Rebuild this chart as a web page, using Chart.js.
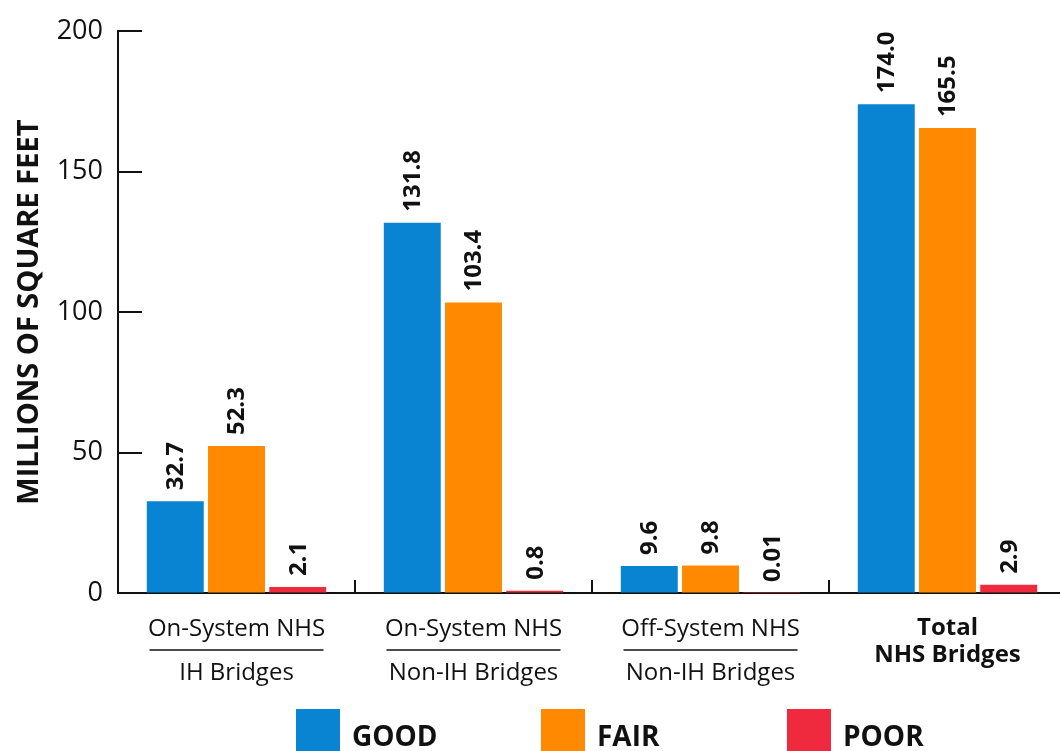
<!DOCTYPE html>
<html>
<head>
<meta charset="utf-8">
<style>
  html, body { margin: 0; padding: 0; background: #fff; overflow: hidden; }
  canvas { display: block; }
</style>
<script src="https://cdn.jsdelivr.net/npm/chart.js@4"></script>
</head>
<body>
<canvas id="bridgeChart" width="1068" height="751"></canvas>
<script>
// chart data
const topLines = ['On-System NHS', 'On-System NHS', 'Off-System NHS', 'Total'];
const bottomLines = ['IH Bridges', 'Non-IH Bridges', 'Non-IH Bridges', 'NHS Bridges'];
const good = [32.7, 131.8, 9.6, 174.0];
const fair = [52.3, 103.4, 9.8, 165.5];
const poor = [2.1, 0.8, 0.01, 2.9];
const yTicks = [0, 50, 100, 150, 200];
const seriesNames = ['GOOD', 'FAIR', 'POOR'];

const FONT = '"Open Sans", "Noto Sans", sans-serif';
const INK = '#111';

function valueText(v) {
  return v < 0.1 ? v.toFixed(2) : v.toFixed(1);
}

// draws inward ticks, group separators, value labels, category labels and legend
const decorPlugin = {
  id: 'decor',
  afterDraw(chart) {
    const ctx = chart.ctx;
    const area = chart.chartArea;
    const x = chart.scales.x;
    const y = chart.scales.y;
    ctx.save();
    ctx.strokeStyle = INK;
    ctx.lineWidth = 2;

    // y ticks pointing into the plot
    yTicks.forEach(v => {
      const py = Math.round(y.getPixelForValue(v));
      ctx.beginPath();
      ctx.moveTo(area.left, py);
      ctx.lineTo(area.left + 24, py);
      ctx.stroke();
    });

    // separators between groups
    for (let i = 1; i < topLines.length; i++) {
      const px = Math.round((x.getPixelForValue(i - 1) + x.getPixelForValue(i)) / 2);
      ctx.beginPath();
      ctx.moveTo(px, area.bottom);
      ctx.lineTo(px, area.bottom - 13);
      ctx.stroke();
    }

    // value labels over bars
    ctx.fillStyle = INK;
    ctx.font = 'bold 24px ' + FONT;
    ctx.textAlign = 'left';
    ctx.textBaseline = 'middle';
    chart.data.datasets.forEach((ds, di) => {
      chart.getDatasetMeta(di).data.forEach((bar, i) => {
        ctx.save();
        ctx.translate(bar.x, bar.y - 11);
        ctx.rotate(-Math.PI / 2);
        ctx.fillText(valueText(ds.data[i]), 0, 1);
        ctx.restore();
      });
    });

    // category labels
    ctx.textAlign = 'center';
    topLines.forEach((t, i) => {
      const cx = x.getPixelForValue(i);
      if (i === topLines.length - 1) {
        ctx.font = 'bold 24px ' + FONT;
        ctx.fillText(t, cx, 628);
        ctx.fillText(bottomLines[i], cx, 655);
      } else {
        ctx.font = '24px ' + FONT;
        ctx.fillText(t, cx, 629);
        ctx.fillText(bottomLines[i], cx, 673);
        ctx.lineWidth = 1.5;
        ctx.beginPath();
        ctx.moveTo(cx - 87, 650);
        ctx.lineTo(cx + 87, 650);
        ctx.stroke();
      }
    });

    // legend
    const legendX = [296, 541, 787];
    ctx.font = 'bold 28px ' + FONT;
    ctx.textAlign = 'left';
    chart.data.datasets.forEach((ds, di) => {
      ctx.fillStyle = ds.backgroundColor;
      ctx.fillRect(legendX[di], 709, 44, 44);
      ctx.fillStyle = INK;
      ctx.fillText(seriesNames[di], legendX[di] + 56, 738);
    });
    ctx.restore();
  }
};

const ctx = document.getElementById('bridgeChart').getContext('2d');
const bridgeChart = new Chart(ctx, {
  type: 'bar',
  data: {
    labels: topLines,
    datasets: [
      { label: seriesNames[0], data: good, backgroundColor: '#0884d2' },
      { label: seriesNames[1], data: fair, backgroundColor: '#ff8900' },
      { label: seriesNames[2], data: poor, backgroundColor: '#f02a3e' }
    ]
  },
  options: {
    responsive: false,
    devicePixelRatio: 1,
    animation: false,
    layout: { padding: { top: 30, right: 2, left: 0, bottom: 0 } },
    datasets: { bar: { barPercentage: 0.93, categoryPercentage: 0.775 } },
    plugins: {
      legend: { display: false },
      tooltip: { enabled: false }
    },
    scales: {
      x: {
        grid: { display: false },
        border: { display: true, color: INK, width: 2 },
        ticks: { display: false },
        afterFit: s => { s.height = 158; }
      },
      y: {
        min: 0,
        max: 200,
        afterBuildTicks: s => { s.ticks = yTicks.map(v => ({ value: v })); },
        grid: { drawOnChartArea: false, drawTicks: false },
        border: { display: true, color: INK, width: 2 },
        ticks: { color: INK, padding: 15, font: { family: FONT, size: 27 } },
        title: {
          display: true,
          text: 'MILLIONS OF SQUARE FEET',
          color: INK,
          padding: { top: 12, bottom: 0 },
          font: { family: FONT, size: 29, weight: 'bold' }
        },
        afterFit: s => { s.width = 118; }
      }
    }
  },
  plugins: [decorPlugin]
});
</script>
</body>
</html>
